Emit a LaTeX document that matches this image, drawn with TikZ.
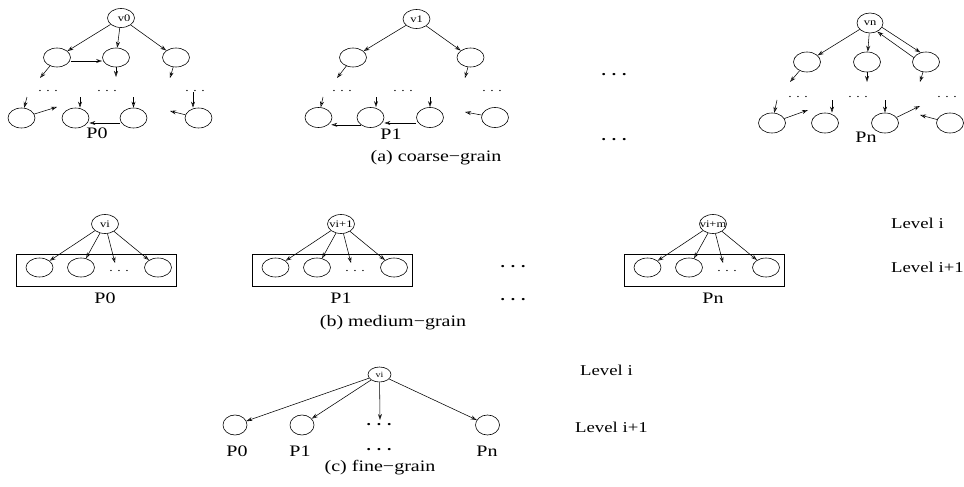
\documentclass[tikz,border=0pt]{standalone}
\usepackage{fontspec}
\setmainfont[FakeStretch=1.25]{Liberation Serif}
\usetikzlibrary{shapes.geometric,arrows.meta}
\begin{document}
\begin{tikzpicture}[x=1pt,y=-1pt,
  every node/.style={inner sep=0pt},
  nd/.style={draw, ellipse, line width=0.6pt, minimum width=27pt, minimum height=19pt, inner sep=0pt, font=\fontsize{10}{11}\selectfont},
  arr/.style={line width=0.55pt, -{Stealth[open,length=6pt,width=4pt]}},
  lbl/.style={font=\fontsize{16}{18}\selectfont},
  captxt/.style={font=\fontsize{16}{18}\selectfont},
  lvl/.style={font=\fontsize{15}{17}\selectfont, anchor=west},
  sdots/.style={font=\fontsize{11}{12}\selectfont},
  bdots/.style={font=\fontsize{14}{16}\selectfont\bfseries},
  boxst/.style={draw, line width=0.6pt, rectangle},
]
\useasboundingbox (0,0) rectangle (964,487);

% ---------------- (a) coarse-grain, P0 ----------------
\node[nd] (r0) at (121,18) {\makebox[0pt]{\hspace{6pt}v0}};
\node[nd] (r0a) at (57,57.5) {};
\node[nd] (r0b) at (116,57.5) {};
\node[nd] (r0c) at (176,57.5) {};
\node[sdots] (d0a) at (48,91) {. . .};
\node[sdots] (d0b) at (107,91) {. . .};
\node[sdots] (d0c) at (195,91) {. . .};
\node[nd, minimum height=20pt] (r0e) at (21.5,118) {};
\node[nd, minimum height=20pt] (r0f) at (75.5,118) {};
\node[nd, minimum height=20pt] (r0g) at (133.5,118) {};
\node[nd, minimum height=20pt] (r0h) at (198.5,118) {};
\node[lbl] (p0a) at (97,133) {P0};
\coordinate (k01) at (40,78);
\coordinate (k02) at (116,77);
\coordinate (k03) at (170,78);
\coordinate (k04) at (27,97);
\coordinate (k05) at (57,107);
\coordinate (k06) at (80,97);
\coordinate (k07) at (133.5,97);
\coordinate (k08) at (193,92);
\coordinate (k09) at (170,111);
\draw[arr] (r0) -- (r0a);
\draw[arr] (r0) -- (r0b);
\draw[arr] (r0) -- (r0c);
\draw[arr] ([yshift=-3.5pt]r0a.east) -- ([yshift=-3.5pt]r0b.west);
\draw[arr] (r0a) -- (k01);
\draw[arr] (r0b) -- (k02);
\draw[arr] (r0c) -- (k03);
\draw[arr] (k04) -- (r0e);
\draw[arr] (r0e) -- (k05);
\draw[arr] (k06) -- (k06 |- r0f.north);
\draw[arr] (k07) -- (r0g);
\draw[arr] ([yshift=-5pt]r0g.west) -- ([yshift=-5pt]r0f.east);
\draw[arr] (k08) -- (k08 |- r0h.north);
\draw[arr] (r0h) -- (k09);

% ---------------- (a) coarse-grain, P1 ----------------
\node[nd] (r1) at (416.5,19) {\makebox[0pt]{v1}};
\node[nd] (r1a) at (353,57.5) {};
\node[nd] (r1b) at (470.5,57.5) {};
\node[sdots] (d1a) at (342,91) {. . .};
\node[sdots] (d1b) at (403,91) {. . .};
\node[sdots] (d1c) at (492,91) {. . .};
\node[nd, minimum height=20pt] (r1e) at (318.5,117.5) {};
\node[nd, minimum height=20pt] (r1f) at (370.5,117.5) {};
\node[nd, minimum height=20pt] (r1g) at (430,117.5) {};
\node[nd, minimum height=20pt] (r1h) at (495,117.5) {};
\node[lbl] (p1a) at (391,134) {P1};
\coordinate (k11) at (337,78);
\coordinate (k12) at (465,78);
\coordinate (k13) at (323,97);
\coordinate (k14) at (376,97);
\coordinate (k15) at (430,97);
\coordinate (k16) at (465,112);
\draw[arr] (r1) -- (r1a);
\draw[arr] (r1) -- (r1b);
\draw[arr] (r1a) -- (k11);
\draw[arr] (r1b) -- (k12);
\draw[arr] (k13) -- (r1e);
\draw[arr] (k14) -- (k14 |- r1f.north);
\draw[arr] (k15) -- (r1g);
\draw[arr] (r1f.south west) -- ([xshift=3pt]r1e.south east);
\draw[arr] ([yshift=-5.5pt]r1g.west) -- ([yshift=-5.5pt]r1f.east);
\draw[arr] (r1h) -- (k16);

% ---------------- (a) coarse-grain, Pn ----------------
\node[nd, minimum width=26pt, minimum height=20pt] (rn) at (870,23) {\makebox[0pt]{vn}};
\node[nd, minimum height=20pt] (rna) at (807,62) {};
\node[nd, minimum height=20pt] (rnb) at (867,62) {};
\node[nd, minimum height=20pt] (rnc) at (926,62) {};
\node[sdots] (dna) at (798,97) {. . .};
\node[sdots] (dnb) at (858,97) {. . .};
\node[sdots] (dnc) at (947,97) {. . .};
\node[nd, minimum height=20pt] (rne) at (772,123) {};
\node[nd, minimum height=20pt] (rnf) at (825,123) {};
\node[nd, minimum height=20pt] (rng) at (885,123) {};
\node[nd, minimum height=20pt] (rnh) at (950,123) {};
\node[lbl] (pna) at (866,137) {Pn};
\coordinate (kn1) at (790,82);
\coordinate (kn2) at (867,82);
\coordinate (kn3) at (920,82);
\coordinate (kn4) at (777,100);
\coordinate (kn5) at (808,110);
\coordinate (kn6) at (832,100);
\coordinate (kn7) at (885,100);
\coordinate (kn8) at (920,106);
\coordinate (kn9) at (920,115);
\draw[arr] (rn) -- (rna);
\draw[arr] (rn) -- (rnb);
\draw[arr] (rn.-20) -- (rnc.120);
\draw[arr] (rnc.160) -- (rn.-50);
\draw[arr] (rna) -- (kn1);
\draw[arr] (rnb.south) -- (kn2);
\draw[arr] (rnc) -- (kn3);
\draw[arr] (kn4) -- (rne);
\draw[arr] (rne) -- (kn5);
\draw[arr] (kn6) -- (kn6 |- rnf.north);
\draw[arr] (kn7) -- (rng);
\draw[arr] (rng) -- (kn8);
\draw[arr] (rnh) -- (kn9);

\node[bdots] (ga1) at (614,75) {. . .};
\node[bdots] (ga2) at (614,140) {. . .};
\node[captxt] (capa) at (436,158) {(a) coarse−grain};

% ---------------- (b) medium-grain ----------------
\foreach \dx/\t/\p/\i in {0/vi/P0/0, 236/vi+1/P1/1, 608/vi+m/Pn/2} {
  \node[nd] (mr\i) at (\dx+105,224) {\makebox[0pt]{\t}};
  \node[boxst, minimum width=160pt, minimum height=32pt] (mbox\i) at (\dx+96,270) {};
  \node[nd] (ma\i) at (\dx+39.5,267.5) {};
  \node[nd] (mb\i) at (\dx+81,267.5) {};
  \node[sdots] (md\i) at (\dx+119,271) {. . .};
  \node[nd] (mc\i) at (\dx+158,267.5) {};
  \node[lbl] (mp\i) at (\dx+105,298) {\p};
  \coordinate (mk\i) at (\dx+115,263);
  \draw[arr] (mr\i) -- (ma\i);
  \draw[arr] (mr\i) -- (mb\i);
  \draw[arr] (mr\i) -- (mk\i);
  \draw[arr] (mr\i) -- (mc\i);
}
\node[bdots] (gb1) at (513,267) {. . .};
\node[bdots] (gb2) at (513,300) {. . .};
\node[lvl] (lvb1) at (891,223) {Level i};
\node[lvl] (lvb2) at (891,267) {Level i+1};
\node[captxt] (capb) at (393,323) {(b) medium−grain};

% ---------------- (c) fine-grain ----------------
\node[nd, minimum width=23pt, minimum height=15pt] (fr) at (379.5,374.5) {\makebox[0pt]{\fontsize{8}{9}\selectfont vi}};
\node[nd, minimum width=24pt, minimum height=20pt] (fa) at (235,425) {};
\node[nd, minimum width=24pt, minimum height=20pt] (fb) at (302,425) {};
\node[nd, minimum width=24pt, minimum height=20pt] (fc) at (487.5,425) {};
\node[bdots] (fd1) at (379,425) {. . .};
\node[bdots] (fd2) at (379,450) {. . .};
\node[lbl] (fpa) at (237,451) {P0};
\node[lbl] (fpb) at (300,451) {P1};
\node[lbl] (fpc) at (487,451) {Pn};
\coordinate (fk) at (380,420);
\draw[arr] (fr) -- (fa);
\draw[arr] (fr) -- (fb);
\draw[arr] (fr) -- (fk);
\draw[arr] (fr) -- (fc);
\node[lvl] (lvc1) at (580,370) {Level i};
\node[lvl] (lvc2) at (575,427) {Level i+1};
\node[captxt] (capc) at (380,468) {(c) fine−grain};
\end{tikzpicture}
\end{document}
